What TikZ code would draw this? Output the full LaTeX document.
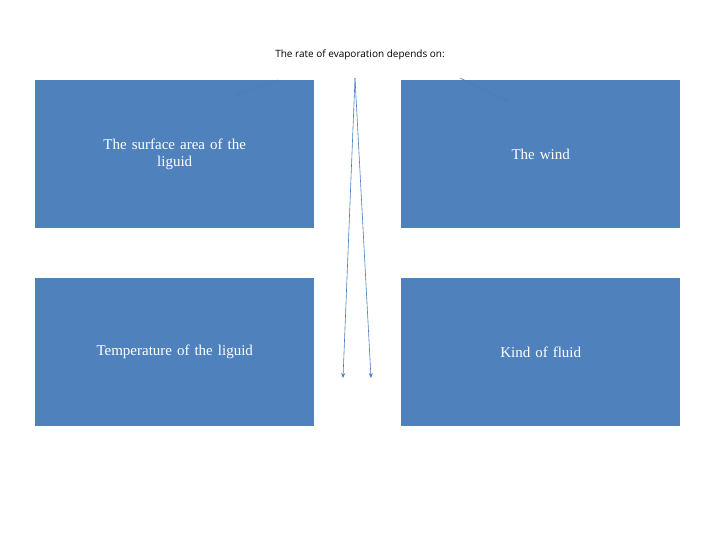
\documentclass[tikz,border=0pt]{standalone}
\usepackage{fontspec}
\setmainfont{Liberation Serif}
\newfontfamily\titlefont{Open Sans}
\begin{document}
\begin{tikzpicture}[x=1pt,y=-1pt,
 box/.style={fill=boxblue,draw=none,minimum width=279pt,minimum height=148pt,anchor=north west,inner sep=0pt,text=white,font=\fontsize{15}{17}\selectfont,align=center,text width=260pt},
 arr/.style={draw=arrblue,-{Stealth[length=5pt,width=4pt]},line width=0.6pt}]
\usetikzlibrary{arrows.meta}
\definecolor{boxblue}{HTML}{4F81BD}
\definecolor{arrblue}{HTML}{4A7EBB}
\useasboundingbox (0,0) rectangle (720,540);
\node (t) at (360,55) {\titlefont\fontsize{10}{12}\selectfont The rate of evaporation depends on:};
\node[box] (a) at (35,80) {The surface area of the\\liguid\\[12pt]};
\node[box] (b) at (401,80) {The wind\\[12pt]};
\node[box] (c) at (35,278) {Temperature of the liguid};
\node[box] (d) at (401,278) {Kind of fluid};
\coordinate (s1) at (278,80); \coordinate (e1) at (235,95);
\coordinate (s2) at (460,78); \coordinate (e2) at (508,101);
\coordinate (s3) at (355,78); \coordinate (e3) at (343,378); \coordinate (e4) at (371,378);
\draw[arr] (s1) -- (e1);
\draw[arr] (s2) -- (e2);
\draw[arr] (s3) -- (e3);
\draw[arr] (s3) -- (e4);
\end{tikzpicture}
\end{document}
